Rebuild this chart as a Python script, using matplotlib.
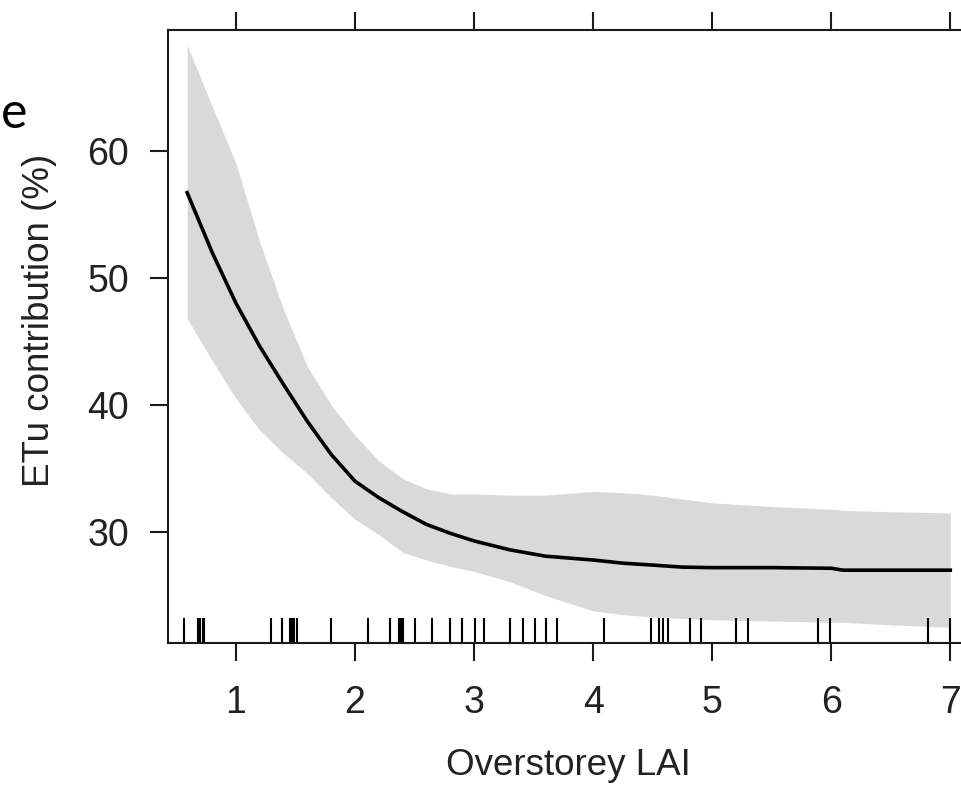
import numpy as np
import matplotlib
matplotlib.use('Agg')
import matplotlib.pyplot as plt

# fitted smooth of ETu contribution against overstorey LAI
lai_grid = [0.59, 0.8, 1.0, 1.2, 1.4, 1.6, 1.8, 2.0, 2.2, 2.4, 2.6, 2.8,
            3.0, 3.3, 3.6, 4.0, 4.25, 4.5, 4.75, 5.0, 5.5, 6.0, 6.1, 6.5, 7.0]
fit = [56.7, 52.0, 48.0, 44.6, 41.6, 38.7, 36.1, 34.0, 32.7, 31.6, 30.6, 29.9,
       29.3, 28.6, 28.1, 27.8, 27.55, 27.4, 27.24, 27.2, 27.2, 27.15, 27.0, 27.0, 27.0]
upper = [68.3, 63.5, 59.0, 52.8, 47.5, 43.0, 40.0, 37.6, 35.6, 34.2, 33.4, 33.0,
         33.0, 32.9, 32.9, 33.2, 33.1, 32.9, 32.6, 32.3, 32.0, 31.8, 31.7, 31.6, 31.5]
lower = [46.8, 43.5, 40.5, 38.0, 36.2, 34.6, 32.7, 31.0, 29.8, 28.4, 27.8, 27.3,
         26.9, 26.1, 25.0, 23.8, 23.5, 23.3, 23.2, 23.1, 23.0, 22.9, 22.9, 22.7, 22.5]

# observed LAI values (rug)
rug_lai = [0.56, 0.68, 0.70, 0.72, 0.73, 1.29, 1.39, 1.45, 1.47, 1.49, 1.51,
           1.80, 2.11, 2.29, 2.37, 2.39, 2.40, 2.50, 2.65, 2.80, 2.90, 3.01,
           3.08, 3.30, 3.41, 3.51, 3.60, 3.70, 4.09, 4.49, 4.55, 4.59, 4.63,
           4.81, 4.91, 5.20, 5.30, 5.89, 5.99, 6.81, 7.00]

xticks = [1, 2, 3, 4, 5, 6, 7]
yticks = [30, 40, 50, 60]

plt.rcParams['font.family'] = ['Liberation Sans', 'DejaVu Sans']

fig = plt.figure(figsize=(9.62, 7.85), dpi=100)
ax = fig.add_axes([168 / 962, 142 / 785, 818 / 962, 613 / 785])

ax.fill_between(lai_grid, lower, upper, color='#d9d9d9', lw=0)
ax.plot(lai_grid, fit, color='black', lw=2.6)
ax.vlines(rug_lai, 0, 25 / 613, color='black', lw=1.5,
          transform=ax.get_xaxis_transform())

ax.set_xlim(0.429, 7.30)
ax.set_ylim(21.27, 69.5)
ax.set_xticks(xticks)
ax.set_yticks(yticks)

for s in ax.spines.values():
    s.set_linewidth(1.5)
    s.set_color('#1a1a1a')

ax.tick_params(axis='both', direction='out', length=13, width=1.5,
               color='#1a1a1a', labelsize=27, labelcolor='#222222')
ax.tick_params(axis='x', top=True, pad=17)
ax.tick_params(axis='y', pad=15)

fig.text(40 / 962, 1 - 320 / 785, 'ETu contribution (%)', rotation=90,
         ha='center', va='center', fontsize=26.5, color='#222222')
fig.text(568 / 962, 10 / 785, 'Overstorey LAI', ha='center', va='baseline',
         fontsize=26.5, color='#222222')
# stray letter left over from the panel's cropped caption
fig.text(1 / 962, 1 - 128 / 785, 'e', ha='left', va='baseline',
         fontsize=36, family=['Lato', 'DejaVu Sans'], color='black')

fig.savefig('out.png', dpi=100)
